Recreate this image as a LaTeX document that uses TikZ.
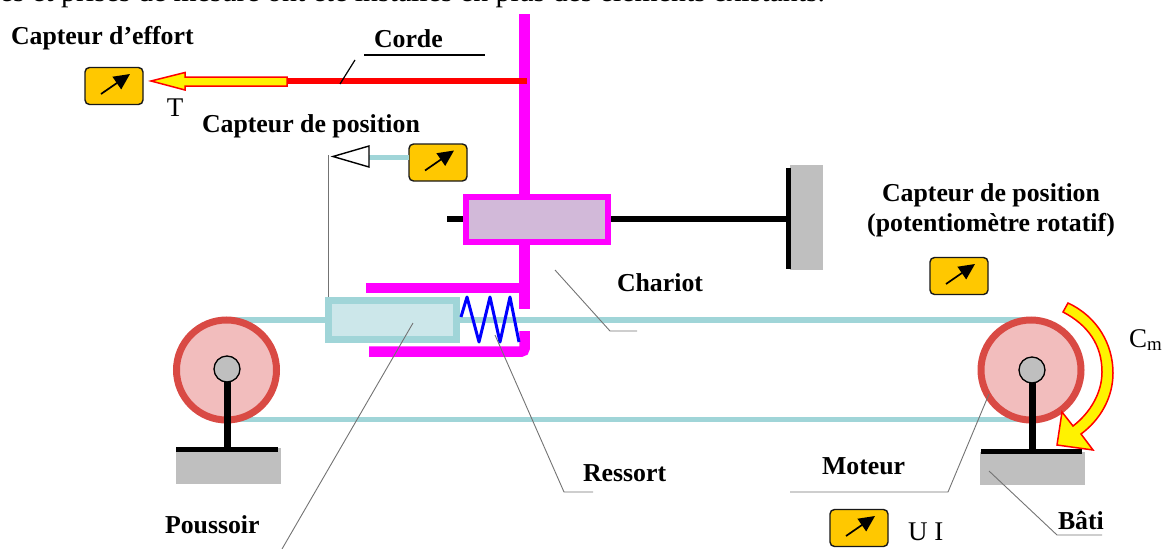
\documentclass[tikz,border=0pt]{standalone}
\usepackage{fontspec}
\setmainfont{Liberation Serif}
\usetikzlibrary{arrows.meta}
\definecolor{magentaA}{HTML}{FF00FF}
\definecolor{beltC}{HTML}{A0D5D8}
\definecolor{pushF}{HTML}{CCE7EA}
\definecolor{cartF}{HTML}{D2B9D9}
\definecolor{pulR}{HTML}{D94A44}
\definecolor{pulF}{HTML}{F2BDBD}
\definecolor{grayB}{HTML}{BFBFBF}
\definecolor{gauge}{HTML}{FFC800}
\tikzset{
  x=1pt,y=-1pt,
  bold label/.style={font=\fontsize{25.8}{30}\selectfont\bfseries,inner sep=0pt,outer sep=0pt,text=black},
  plain label/.style={font=\fontsize{27}{30}\selectfont,inner sep=0pt,outer sep=0pt,text=black},
  leader/.style={draw=black!55,line width=0.9pt},
  belt/.style={draw=beltC,line width=5.5pt},
  frame/.style={draw=magentaA,line width=10.5pt},
  stem/.style={draw=black,line width=7pt},
  gaugebox/.style={draw=black!90,line width=1.4pt,fill=gauge,rounded corners=4.5pt,minimum width=58pt,minimum height=37pt,inner sep=0pt,outer sep=0pt},
  gaugearrow/.style={draw=black,line width=1.7pt,-{Triangle[length=16pt,width=15pt]}},
  pulley/.style={circle,draw=pulR,fill=pulF,line width=7pt,minimum size=100pt,inner sep=0pt,outer sep=0pt},
  hub/.style={circle,draw=black,fill=grayB,line width=1.3pt,minimum size=26pt,inner sep=0pt,outer sep=0pt},
  ground/.style={fill=grayB,draw=none},
  forcearrow/.style={draw=red,fill=yellow,line width=1.5pt,line join=miter},
}
\newcommand{\gaugeAt}[3]{%
  \node[gaugebox] (#1) at (#2,#3) {};
  \draw[gaugearrow] ([shift={(-13,8)}]#1.center) -- ([shift={(16,-12)}]#1.center);
}
\begin{document}
\begin{tikzpicture}
\useasboundingbox (0,0) rectangle (1168,549);
\clip (0,0) rectangle (1168,549);
% clipped text line at the top
\node[plain label,font=\fontsize{29.8}{32}\selectfont,anchor=base east] (toptext) at (825,1) {es et prises de mesure ont été installés en plus des éléments existants.};

% grounds
\fill[ground] (176,448) rectangle (281,484);
\fill[ground] (980,452) rectangle (1085,485);
\fill[ground] (790,165) rectangle (823,270);

% belt
\coordinate (beltTL) at (228,320); \coordinate (beltTR) at (1030,320);
\coordinate (beltBL) at (228,419.5); \coordinate (beltBR) at (1030,419.5);
\draw[belt] (beltTL) -- (beltTR);
\draw[belt] (beltBL) -- (beltBR);

% pulleys
\node[pulley] (pulL) at (226.5,370) {};
\node[pulley] (pulR) at (1031,370) {};
\node[hub] (hubL) at (227,369) {};
\node[hub] (hubR) at (1032,370) {};
\coordinate (footL) at (227,449.5); \coordinate (footR) at (1032,451);
\draw[stem] (hubL.south) -- (footL);
\draw[stem] (hubR.south) -- (footR);
\draw[draw=black,line width=5pt] (176,449.5) -- (278,449.5);
\draw[draw=black,line width=5pt] (981,451) -- (1082,451);

% magenta structure
\draw[frame] (524.5,14) -- (524.5,194);
\draw[frame] (524.5,245) -- (524.5,309);
\draw[frame] (366,288) -- (530,288);
\draw[frame,rounded corners=3pt] (369,351.5) -- (524.5,351.5) -- (524.5,331);

% rod and wall
\draw[draw=black,line width=6pt] (447,219) -- (790,219);
\draw[draw=black,line width=5pt] (788,168) -- (788,269);
\node[draw=magentaA,fill=cartF,line width=6.5pt,minimum width=142pt,minimum height=45pt,inner sep=0pt] (cart) at (537,219.5) {};

% pusher
\node[draw=beltC,fill=pushF,line width=7pt,minimum width=128pt,minimum height=39pt,inner sep=0pt] (push) at (392.5,320) {};

% spring
\draw[blue,line width=3pt,line join=round] (461,317) -- (467,297) -- (479,342) -- (490,297) -- (500,342) -- (510,297) -- (519,342);

% rope and tension arrow
\coordinate (ropeEnd) at (527,81);
\coordinate (ropeStart) at (287,81);
\draw[red,line width=6pt] (ropeStart) -- (ropeEnd);
\draw[forcearrow] (287,77) -- (185,77) -- (185,72.5) -- (151,81) -- (185,90) -- (185,86) -- (287,86) -- cycle;

% gauges
\gaugeAt{gEffort}{114}{86}
\gaugeAt{gPos}{438}{162.5}
\gaugeAt{gPot}{959}{276}
\gaugeAt{gUI}{859}{528}

% position target
\coordinate (triBack) at (369,157);
\draw[draw=beltC,line width=5pt] (gPos.west |- triBack) -- (triBack);
\draw[draw=black,fill=white,line width=1.4pt] (333,156.5) -- (369,146) -- (369,167) -- cycle;

% curved torque arrow
\path[forcearrow] (1068,303) .. controls (1098,317) and (1113,345) .. (1113,373)
  .. controls (1113,398) and (1100,420) .. (1081,434) -- (1093,450) -- (1057,445) -- (1062,412) -- (1073,426)
  .. controls (1090,413) and (1102,393) .. (1102,372) .. controls (1102,345) and (1088,325) .. (1063,312) -- cycle;

% leaders
\draw[leader] (328,155) -- (328,297);
\draw[leader] (413,323) -- (282,549);
\draw[leader] (495,335) -- (564,492) -- (593,492);
\draw[leader] (555,270) -- (610,331) -- (637,331);
\draw[leader] (989,394) -- (948,492) -- (790,492);
\draw[leader] (989,471) -- (1057,535) -- (1102,535);
\draw[draw=black,line width=1.2pt] (340,84) -- (355,60);
\draw[draw=black,line width=2pt] (364,54.5) -- (485,54.5);

% labels
\node[bold label,anchor=base west] (lEffort) at (11,44) {Capteur d’effort};
\node[bold label,anchor=base west] (lCorde) at (374,47) {Corde};
\node[plain label,anchor=base] (lT) at (175,116) {T};
\node[bold label,anchor=base west] (lPos) at (202,132) {Capteur de position};
\node[bold label,anchor=base] (lPot1) at (991,201) {Capteur de position};
\node[bold label,anchor=base] (lPot2) at (991,231) {(potentiomètre rotatif)};
\node[bold label,anchor=base west] (lChariot) at (617,291) {Chariot};
\node[plain label,anchor=base west] (lCm) at (1129,347) {C\textsubscript{m}};
\node[bold label,anchor=base west] (lMoteur) at (822,474) {Moteur};
\node[bold label,anchor=base west] (lRessort) at (583,481) {Ressort};
\node[bold label,anchor=base west] (lPoussoir) at (165,533) {Poussoir};
\node[bold label,anchor=base west] (lBati) at (1058,529) {Bâti};
\node[plain label,anchor=base west] (lUI) at (908,540) {U I};
\end{tikzpicture}
\end{document}
